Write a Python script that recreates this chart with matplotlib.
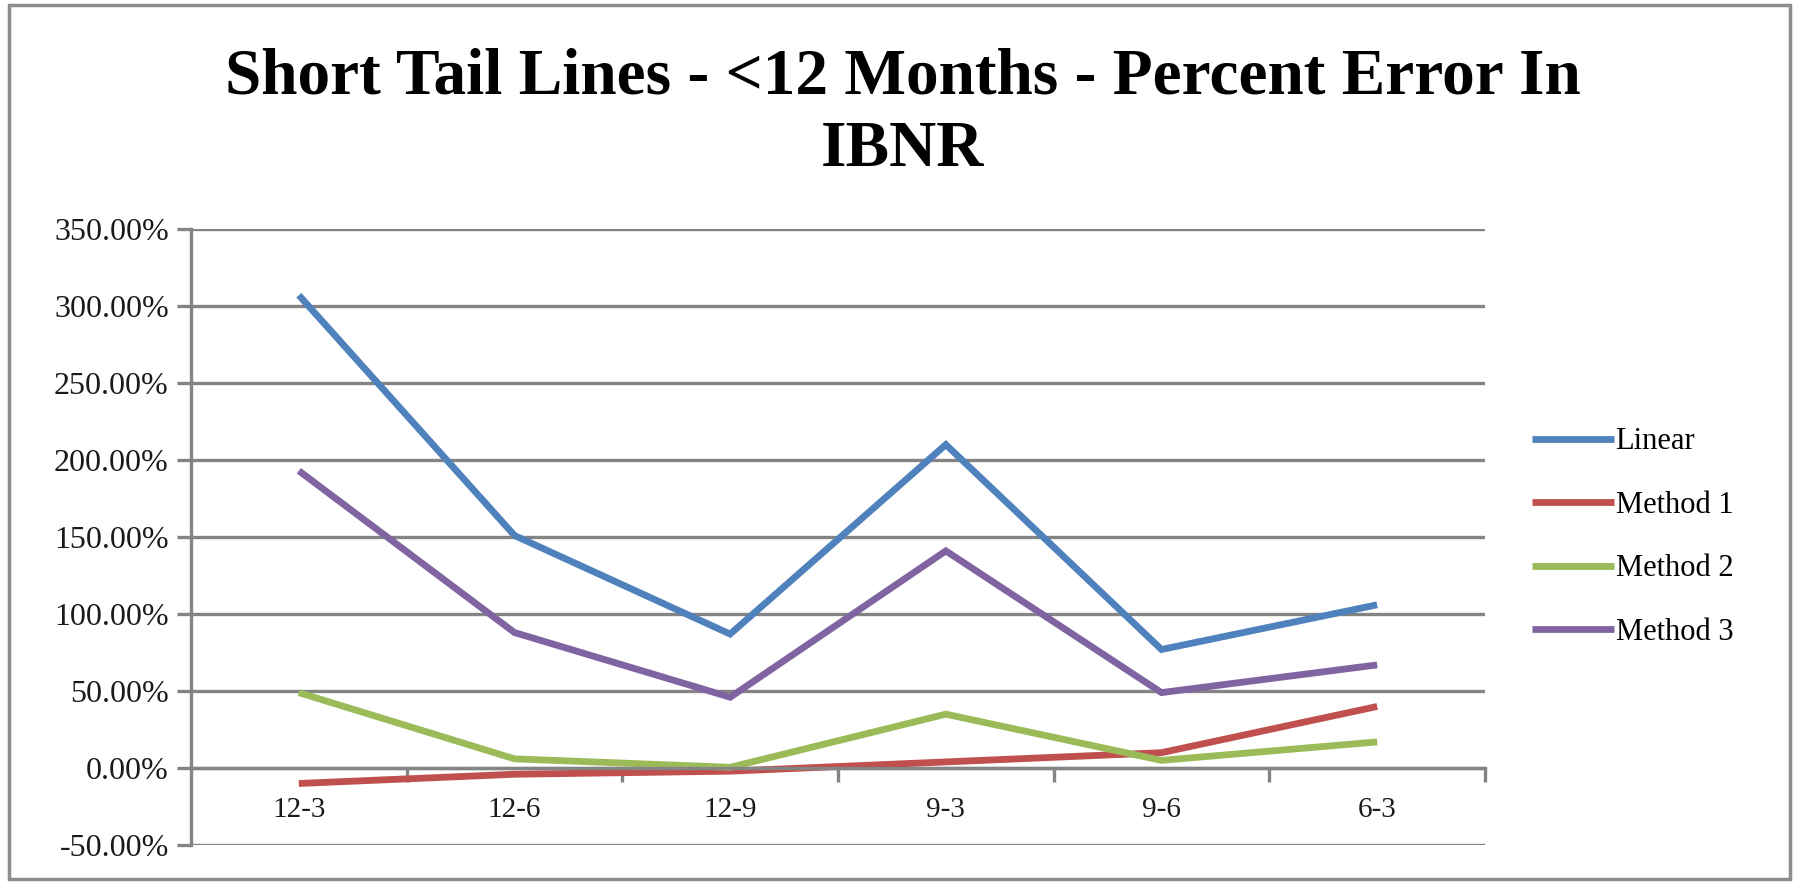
import matplotlib.pyplot as plt
from matplotlib.patches import Rectangle
from matplotlib.ticker import FuncFormatter, FixedLocator

# ── Data ─────────────────────────────────────────────────────
periods = ['12-3', '12-6', '12-9', '9-3', '9-6', '6-3']

linear   = [307, 151, 87, 210, 77, 106]
method_1 = [-10, -4, -2, 4, 10, 40]
method_2 = [49, 6, 0.5, 35, 5, 17]
method_3 = [193, 88, 46, 141, 49, 67]

series = {
    'Linear'   : (linear,   '#4F81BD'),
    'Method 1' : (method_1, '#C0504D'),
    'Method 2' : (method_2, '#9BBB59'),
    'Method 3' : (method_3, '#8064A2'),
}

GRID = '#848484'
plt.rcParams['font.family'] = 'Liberation Serif'

# ── Figure ───────────────────────────────────────────────────
fig = plt.figure(figsize=(17.95, 8.84), dpi=100)
ax = fig.add_axes([0.1064, 0.044, 0.7209, 0.697])

x = list(range(len(periods)))
for label, (vals, color) in series.items():
    ax.plot(x, vals, color=color, linewidth=4.9, label=label,
            solid_capstyle='butt', solid_joinstyle='miter')

ax.set_xlim(-0.5, len(periods) - 0.5)
ax.set_ylim(-50, 350)
ax.set_yticks(range(-50, 351, 50))
ax.yaxis.set_major_formatter(FuncFormatter(lambda v, _: f'{v:.2f}%'))
ax.grid(axis='y', color=GRID, linewidth=2.4)
ax.set_axisbelow(True)

# category axis crosses at zero, ticks between categories
for s in ['top', 'right']:
    ax.spines[s].set_visible(False)
ax.spines['bottom'].set_position(('data', 0))
ax.spines['bottom'].set_color(GRID)
ax.spines['bottom'].set_linewidth(2.4)
ax.spines['left'].set_color(GRID)
ax.spines['left'].set_linewidth(2.4)

ax.set_xticks(x)
ax.set_xticklabels(periods)
ax.xaxis.set_minor_locator(FixedLocator([i + 0.5 for i in range(len(periods))]))
ax.tick_params(axis='x', which='major', length=0, pad=21, labelsize=21,
               labelcolor='#1a1a1a')
ax.tick_params(axis='x', which='minor', length=10, width=2.4, color=GRID,
               direction='out')
ax.tick_params(axis='y', length=10, width=2.4, color=GRID, labelsize=23,
               pad=6, labelcolor='#1a1a1a')

ax.legend(loc='center left', bbox_to_anchor=(1.036, 0.5), frameon=False,
          fontsize=22, handlelength=2.7, handletextpad=0.05,
          labelspacing=1.13, borderpad=0, borderaxespad=0)

fig.text(0.503, 0.871, 'Short Tail Lines - <12 Months - Percent Error In\nIBNR',
         ha='center', va='center', fontsize=47, fontweight='bold',
         linespacing=1.27)

# outer chart border
fig.patches.append(Rectangle((0.005, 0.006), 0.992, 0.988,
                             transform=fig.transFigure, fill=False,
                             edgecolor='#8c8c8c', linewidth=2.5))

plt.savefig('out.png', dpi=100)
